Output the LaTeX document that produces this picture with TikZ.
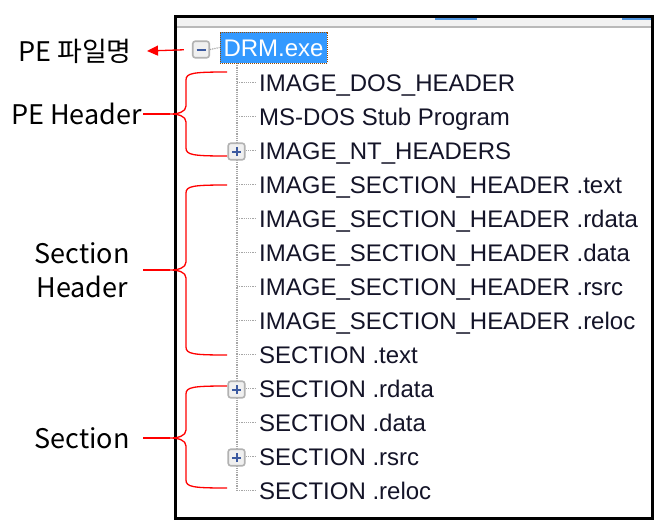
\documentclass[tikz,border=0pt]{standalone}
\usepackage{fontspec}
\setmainfont{Liberation Sans}
\newfontfamily\kofont{Noto Sans CJK KR}
\usetikzlibrary{arrows.meta}
\definecolor{selblue}{RGB}{51,153,255}
\definecolor{signblue}{RGB}{60,90,160}
\definecolor{barblue}{RGB}{80,150,225}
\definecolor{itemtext}{RGB}{20,20,40}

\tikzset{
  entry/.style={anchor=west, inner sep=0pt, text height=18pt, text depth=0pt,
    font=\fontsize{24}{28}\selectfont, text=itemtext},
  lbl/.style={anchor=east, inner ysep=0pt, align=center,
    font=\kofont\fontsize{27}{34}\selectfont},
  treeline/.style={densely dotted, gray!70, line width=1.2pt},
  bracket/.style={red, line width=1.3pt},
  expander/.style={draw=gray!60, fill=gray!12, rounded corners=2.5pt,
    minimum size=16.5pt, inner sep=0pt, line width=1.6pt},
  minusbox/.style={expander, path picture={\draw[signblue, line width=2pt]
    ([xshift=-4.5pt]path picture bounding box.center) -- ++(9pt,0);}},
  plusbox/.style={expander, path picture={\draw[signblue, line width=2pt]
    ([xshift=-4.5pt]path picture bounding box.center) -- ++(9pt,0)
    ([yshift=-4.5pt]path picture bounding box.center) -- ++(0,9pt);}}
}

% red curly bracket: label node, top, middle, bottom
\newcommand\redbrace[4]{%
  \draw[bracket] (227,#2) .. controls (193,#2) and (186,#2+1) .. (186,#2+8)
    -- (186,#3-8) .. controls (186,#3-2) and (178,#3) .. (170,#3)
    .. controls (178,#3) and (186,#3+2) .. (186,#3+8)
    -- (186,#4-8) .. controls (186,#4-1) and (193,#4) .. (227,#4);
  \draw[bracket] (#1.east) -- (170,#3);
}

\begin{document}
\begin{tikzpicture}[x=1pt, y=-1pt]
  \useasboundingbox (0,0) rectangle (666,525);
  % --- Define dimensions of the tree ---
  \def\Trunk{237}   % x of the dotted trunk
  \def\RowH{34}     % distance between rows
  \def\RowA{48.5}   % y of the first row

  % --- Window ---
  \fill[white] (175,16) rectangle (652,518);
  \fill[gray!10] (175,16) rectangle (652,27);
  \draw[gray!55, line width=1.5pt] (175,27) -- (652,27);
  \fill[barblue] (435,16) rectangle (477,19.5);
  \fill[barblue] (622,16) rectangle (652,19.5);
  \draw[black, line width=3pt] (175,16) rectangle (652,518);

  % --- Trunk ---
  \draw[treeline] (\Trunk,63) -- (\Trunk,\RowA+13*\RowH);

  % --- Root ---
  \node[minusbox] (mbox) at (201,49.5) {};
  \node[entry, fill=selblue, text=white, draw=orange!60!black, densely dotted,
    line width=1pt, inner xsep=3.5pt, inner ysep=6.5pt] (drm) at (219.5,47.5) {DRM.exe};
  \draw[treeline] (mbox.east) -- (drm.west);

  % --- Children ---
  \foreach \txt [count=\k] in {IMAGE\_DOS\_HEADER, MS-DOS Stub Program,
      IMAGE\_NT\_HEADERS, IMAGE\_SECTION\_HEADER .text,
      IMAGE\_SECTION\_HEADER .rdata, IMAGE\_SECTION\_HEADER .data,
      IMAGE\_SECTION\_HEADER .rsrc, IMAGE\_SECTION\_HEADER .reloc,
      SECTION .text, SECTION .rdata, SECTION .data, SECTION .rsrc, SECTION .reloc} {
    \node[entry] (e\k) at (259,\RowA+\k*\RowH) {\txt};
    \draw[treeline] (\Trunk,\RowA+\k*\RowH) -- ([xshift=-4pt]e\k.west);
  }
  \foreach \k in {3,10,12}
    \node[plusbox] (p\k) at (\Trunk-0.5,\RowA+\k*\RowH+1) {};

  % --- Labels ---
  \node[lbl, inner xsep=15pt] (pename) at (147,51) {PE 파일명};
  \node[lbl, inner xsep=1pt] (pehdr) at (143,114) {PE Header};
  \node[lbl, inner xsep=13pt] (sechdr) at (143,270) {Section\\Header};
  \node[lbl, inner xsep=13pt] (sect) at (143,438) {Section};

  \draw[bracket, -{Triangle[length=11pt,width=10pt]}, shorten <=8pt] (mbox.west) -- (pename.east);
  \redbrace{pehdr}{72}{114}{156}
  \redbrace{sechdr}{185}{270}{355}
  \redbrace{sect}{386}{438}{488}
\end{tikzpicture}
\end{document}
